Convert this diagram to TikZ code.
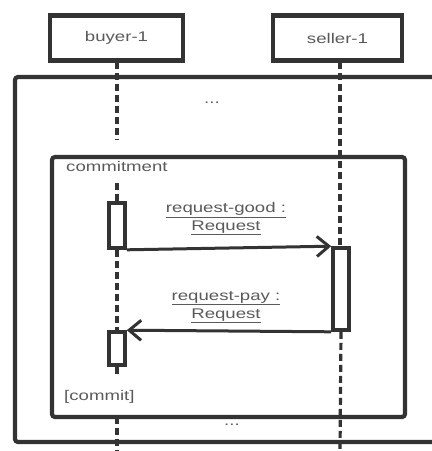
\documentclass[tikz,border=0pt]{standalone}
\usepackage{fontspec}
\setmainfont{Liberation Sans}[FakeStretch=1.33]
\usetikzlibrary{arrows.meta}
\definecolor{ink}{HTML}{333333}
\definecolor{txt}{HTML}{5A5A5A}
\tikzset{
  lbl/.style={font=\fontsize{14}{16}\selectfont, text=txt, inner sep=0pt},
  objbox/.style={draw=ink, line width=4.2pt, fill=white, minimum width=130pt, minimum height=45pt, inner sep=0pt},
  frame/.style={draw=ink, line width=4.2pt, rounded corners=3pt},
  life/.style={draw=ink, line width=3.2pt, dash pattern=on 7pt off 4pt},
  act/.style={draw=ink, line width=3.6pt, fill=white, minimum width=16pt, inner sep=0pt},
  msg/.style={draw=ink, line width=3pt, -{Straight Barb[length=12pt, width=20pt, line width=3pt]}},
}
\begin{document}
\begin{tikzpicture}[x=1pt, y=-1pt]
\useasboundingbox (0,0) rectangle (432,451);
\begin{scope}
\clip (0,0) rectangle (432,451);

% outer fragment (runs off the right edge)
\draw[frame] (15,77) rectangle (445,442);
\node[lbl] (dotsA) at (212,103) {...};

% lifelines
\coordinate (bTop) at (117,62);
\coordinate (sTop) at (340,62);
\coordinate (bGap) at (117,140);
\coordinate (bIn) at (117,183);
\coordinate (bEnd) at (117,451);
\coordinate (sEnd) at (340,451);

% inner fragment
\draw[frame] (52,157) rectangle (405,417);
\node[lbl, anchor=west] (frag) at (66,166) {commitment};
\node[lbl, anchor=west] (guard) at (64,397) {[commit]};
\node[lbl] (dotsB) at (232,425) {...};

% activations
\node[act, minimum height=45pt] (a1) at (117,225.5) {};
\node[act, minimum height=82pt] (a2) at (341,289) {};
\node[act, minimum height=33pt] (a3) at (117,348.5) {};

\draw[life] (bTop) -- (bGap);
\draw[life] (bIn) -- (a1.north);
\draw[life] (a1.south) -- (a3.north);
\draw[life] (a3.south) -- ++(0,8);
\draw[life] (117,417) -- (bEnd);
\draw[life] (sTop) -- (340,248);
\draw[life] (a2.south) -- (sEnd);

% messages
\draw[msg] (a1.south east) -- (a2.north west);
\draw[msg] (a2.south west) -- (a3.north east);
\node[lbl] (m1a) at (226,210) {\underline{request-good :}};
\node[lbl] (m1b) at (226,228) {\underline{Request}};
\node[lbl] (m2a) at (226,298) {\underline{request-pay :}};
\node[lbl] (m2b) at (226,316) {\underline{Request}};
\end{scope}

% participants
\node[objbox, minimum width=133pt] (buyer) at (116.5,38) {};
\node[lbl] at (buyer) {buyer-1};
\node[objbox, minimum width=129pt] (seller) at (337.5,38) {};
\node[lbl] at (seller) {seller-1};
\end{tikzpicture}
\end{document}
